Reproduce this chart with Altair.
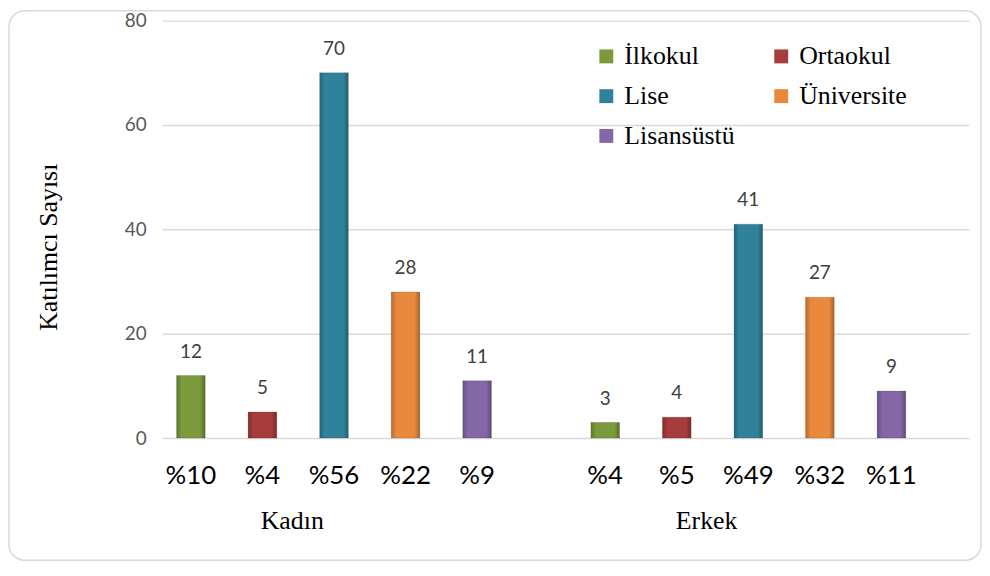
import altair as alt
import pandas as pd

# ---- data ----
gender_order = ["Kadın", "Erkek"]
level_order = ["İlkokul", "Ortaokul", "Lise", "Üniversite", "Lisansüstü"]
genders = ["Kadın"] * 5 + ["Erkek"] * 5
levels = level_order * 2
counts = [12, 5, 70, 28, 11, 3, 4, 41, 27, 9]
shares = ["%10", "%4", "%56", "%22", "%9", "%4", "%5", "%49", "%32", "%11"]
y_ticks = [0, 20, 40, 60, 80]
y_title = ["Katılımcı Sayısı"]
colors = ["#7a9a3c", "#a63c3b", "#30829a", "#e8893c", "#8467a6"]

df = pd.DataFrame({"Cinsiyet": genders, "Eğitim": levels, "Sayı": counts, "Oran": shares})

x_enc = alt.X(
    "Cinsiyet:N",
    sort=gender_order,
    scale=alt.Scale(paddingInner=0.17, paddingOuter=0.0589, align=0),
    axis=alt.Axis(title=None, domain=False, ticks=False, labelAngle=0,
                  labelFont="Liberation Serif", labelFontSize=26, labelColor="#000000",
                  labelPadding=70, labelOffset=-42),
)
xo_enc = alt.XOffset("Eğitim:N", sort=level_order,
                     scale=alt.Scale(paddingInner=0.6, paddingOuter=0.203))
y_enc = alt.Y(
    "Sayı:Q",
    scale=alt.Scale(domain=[0, 80], nice=False),
    axis=alt.Axis(values=y_ticks, title=None, domain=False, ticks=False, grid=True,
                  gridColor="#d9d9d9", gridWidth=1.5, labelFont="Lato", labelFontSize=19,
                  labelColor="#595959", labelPadding=16),
)
color_enc = alt.Color(
    "Eğitim:N",
    sort=level_order,
    scale=alt.Scale(domain=level_order, range=colors),
    legend=alt.Legend(orient="none", legendX=434, legendY=23, columns=2, direction="horizontal",
                      title=None, symbolType="square", symbolSize=196, symbolStrokeWidth=0,
                      labelFont="Liberation Serif", labelFontSize=26, labelColor="#000000",
                      columnPadding=33, rowPadding=14, labelOffset=5, padding=0),
)

base = alt.Chart(df).encode(x=x_enc, xOffset=xo_enc)

bars = base.mark_bar(stroke="#00000022", strokeWidth=1).encode(y=y_enc, color=color_enc)

shade = base.mark_bar(
    color=alt.LinearGradient(
        gradient="linear", x1=0, x2=1, y1=0, y2=0,
        stops=[
            alt.GradientStop(offset=0, color="rgba(0,0,0,0.22)"),
            alt.GradientStop(offset=0.18, color="rgba(0,0,0,0)"),
            alt.GradientStop(offset=0.82, color="rgba(0,0,0,0)"),
            alt.GradientStop(offset=1, color="rgba(0,0,0,0.28)"),
        ],
    )
).encode(y="Sayı:Q")

values = base.mark_text(font="Lato", fontSize=19, color="#404040", baseline="middle", dy=-24).encode(
    y="Sayı:Q", text="Sayı:Q"
)

pct = base.mark_text(font="Lato", fontSize=26, color="#000000", baseline="middle").encode(
    y=alt.value(458), text="Oran:N"
)

title = alt.Chart(pd.DataFrame({"t": y_title})).mark_text(
    angle=270, font="Liberation Serif", fontSize=26, baseline="middle", align="center", color="#000000"
).encode(x=alt.value(-114), y=alt.value(228), text="t:N")

border = alt.Chart(pd.DataFrame({"b": [0]})).mark_rect(
    filled=False, stroke="#d9d9d9", strokeWidth=1.5, cornerRadius=16
).encode(x=alt.value(-154), x2=alt.value(824), y=alt.value(-10), y2=alt.value(543))

chart = alt.layer(border, bars, shade, values, pct, title).properties(
    width=812,
    height=420,
    autosize=alt.AutoSizeParams(type="none"),
    padding={"left": 155, "top": 11, "right": 13, "bottom": 124},
).configure_view(strokeWidth=0)

chart.save("out.html", embed_options={"renderer": "svg", "actions": False})
